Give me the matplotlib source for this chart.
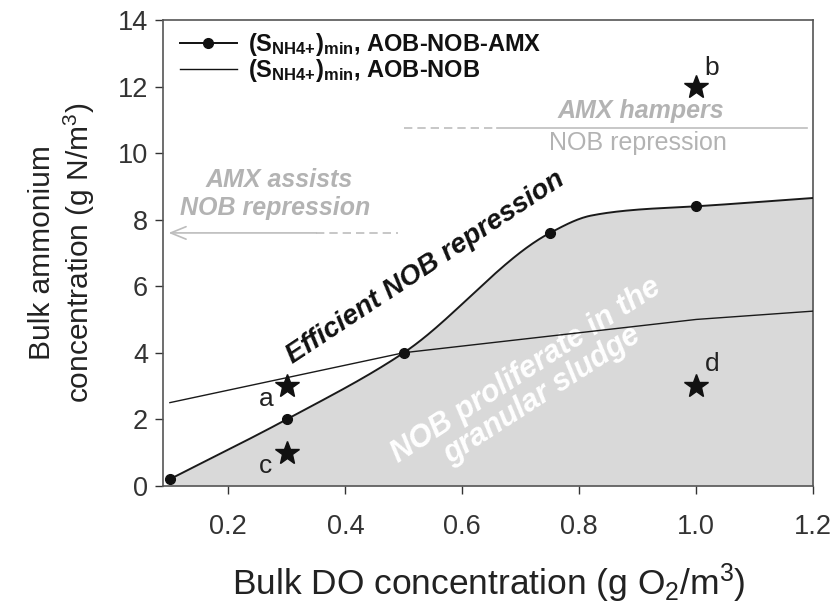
import numpy as np
import matplotlib
matplotlib.use("Agg")
import matplotlib.pyplot as plt
from matplotlib.lines import Line2D

plt.rcParams['font.family'] = ['Liberation Sans', 'DejaVu Sans']
plt.rcParams['mathtext.fontset'] = 'custom'
plt.rcParams['mathtext.rm'] = 'Liberation Sans'
plt.rcParams['mathtext.bf'] = 'Liberation Sans:bold'
plt.rcParams['mathtext.it'] = 'Liberation Sans:italic'

# ---- data ----
amx_do = [0.1, 0.3, 0.5, 0.75, 1.0]
amx_nh4 = [0.2, 2.0, 4.0, 7.6, 8.4]
# smooth curve support points
curve_do = [0.1, 0.3, 0.5, 0.75, 0.82, 0.9, 1.0, 1.2]
curve_nh4 = [0.2, 2.0, 4.0, 7.6, 8.12, 8.3, 8.4, 8.65]

nob_do = [0.1, 0.5, 0.75, 1.0, 1.2]
nob_nh4 = [2.5, 4.0, 4.5, 5.0, 5.25]

star_do = [0.3, 1.0, 0.3, 1.0]
star_nh4 = [3.0, 12.0, 1.0, 3.0]
star_labels = ['a', 'b', 'c', 'd']

xticks = [0.2, 0.4, 0.6, 0.8, 1.0, 1.2]
xticklabels = ['0.2', '0.4', '0.6', '0.8', '1.0', '1.2']
yticks = [0, 2, 4, 6, 8, 10, 12, 14]


def pchip(x, y, xn):
    x = np.asarray(x, float); y = np.asarray(y, float)
    h = np.diff(x); d = np.diff(y) / h
    n = len(x)
    m = np.zeros(n)
    for k in range(1, n - 1):
        if d[k - 1] * d[k] <= 0:
            m[k] = 0
        else:
            w1 = 2 * h[k] + h[k - 1]; w2 = h[k] + 2 * h[k - 1]
            m[k] = (w1 + w2) / (w1 / d[k - 1] + w2 / d[k])
    m[0] = d[0]; m[-1] = d[-1]
    out = np.empty_like(xn)
    for i, xv in enumerate(xn):
        k = min(max(np.searchsorted(x, xv) - 1, 0), n - 2)
        t = (xv - x[k]) / h[k]
        h00 = 2*t**3 - 3*t**2 + 1; h10 = t**3 - 2*t**2 + t
        h01 = -2*t**3 + 3*t**2; h11 = t**3 - t**2
        out[i] = h00*y[k] + h10*h[k]*m[k] + h01*y[k+1] + h11*h[k]*m[k+1]
    return out


fig = plt.figure(figsize=(8.34, 6.05), dpi=100)
ax = fig.add_axes([0.196, 0.197, 0.779, 0.770])

xs = np.linspace(curve_do[0], curve_do[-1], 400)
ys = pchip(curve_do, curve_nh4, xs)

ax.fill_between(xs, 0, ys, color='#d9d9d9', lw=0, zorder=1)
ax.plot(xs, ys, color='#1a1a1a', lw=1.4, zorder=3)
ax.plot(amx_do, amx_nh4, 'o', color='#111111', ms=7, zorder=4)
ax.plot(nob_do, nob_nh4, color='#1a1a1a', lw=1.0, zorder=3)

ax.plot(star_do, star_nh4, '*', color='#111111', ms=18, zorder=5, ls='none')
lab_off = {'a': (-0.036, -0.4), 'b': (0.026, 0.55), 'c': (-0.036, -0.4), 'd': (0.027, 0.65)}
for sx, sy, s in zip(star_do, star_nh4, star_labels):
    dx, dy = lab_off[s]
    ax.text(sx + dx, sy + dy, s, fontsize=19, color='#222222', ha='center', va='center', zorder=6)

grey = '#bdbdbd'
tgrey = '#b3b3b3'
# AMX hampers line
ax.plot([0.5, 0.66], [10.75, 10.75], color=grey, lw=1.2, ls=(0, (5, 3)), zorder=2)
ax.plot([0.66, 1.19], [10.75, 10.75], color=grey, lw=1.2, zorder=2)
ax.text(0.905, 11.25, 'AMX hampers', color=tgrey, fontsize=18, fontweight='bold',
        fontstyle='italic', ha='center', va='center')
ax.text(0.9, 10.3, 'NOB repression', color=tgrey, fontsize=18, ha='center', va='center')

# AMX assists arrow
ax.plot([0.35, 0.49], [7.6, 7.6], color=grey, lw=1.2, ls=(0, (5, 3)), zorder=2)
ax.annotate('', xy=(0.093, 7.6), xytext=(0.355, 7.6),
            arrowprops=dict(arrowstyle='->,head_length=1.1,head_width=0.45', color=grey, lw=1.2),
            zorder=2)
ax.text(0.287, 9.2, 'AMX assists', color=tgrey, fontsize=18, fontweight='bold',
        fontstyle='italic', ha='center', va='center')
ax.text(0.28, 8.35, 'NOB repression', color=tgrey, fontsize=18, fontweight='bold',
        fontstyle='italic', ha='center', va='center')

ax.text(0.537, 6.55, 'Efficient NOB repression', fontsize=20, fontweight='bold',
        fontstyle='italic', color='#111111', rotation=33.5, rotation_mode='anchor',
        ha='center', va='center', zorder=6)
ax.text(0.722, 3.1, 'NOB proliferate in the\ngranular sludge', fontsize=22, fontweight='bold',
        fontstyle='italic', color='white', rotation=33, rotation_mode='anchor',
        ha='center', va='center', multialignment='center', linespacing=0.95, zorder=2)

ax.set_xlim(0.089, 1.2)
ax.set_ylim(0, 14)
ax.set_xticks(xticks)
ax.set_xticklabels(xticklabels)
ax.set_yticks(yticks)
ax.tick_params(axis='both', direction='out', length=6, width=1, colors='#333333',
               labelsize=19.5, labelcolor='#333333')
ax.tick_params(axis='y', pad=5)
ax.tick_params(axis='x', pad=14)
for sp in ax.spines.values():
    sp.set_color('#555555'); sp.set_linewidth(1.2)

ax.set_xlabel('Bulk DO concentration (g O$_2$/m$^3$)', fontsize=25.5, color='#222222', labelpad=16)
ax.set_ylabel('Bulk ammonium\nconcentration (g N/m$^3$)', fontsize=21.5, color='#222222',
              labelpad=15, linespacing=1.2)

handles = [Line2D([], [], color='#111111', lw=1.4, marker='o', ms=7),
           Line2D([], [], color='#111111', lw=1.0)]
labels = [r'(S$_{\mathbf{NH4{+}}}$)$_{\mathbf{min}}$, AOB-NOB-AMX',
          r'(S$_{\mathbf{NH4{+}}}$)$_{\mathbf{min}}$, AOB-NOB']
leg = ax.legend(handles, labels, loc='upper left', bbox_to_anchor=(0.0, 1.012), frameon=False,
                prop=dict(size=17, weight='bold'), handlelength=2.4, handletextpad=0.5,
                labelspacing=-0.02, borderaxespad=0.3, borderpad=0.4)
for t in leg.get_texts():
    t.set_color('#111111')

fig.savefig('out.png', dpi=100)
